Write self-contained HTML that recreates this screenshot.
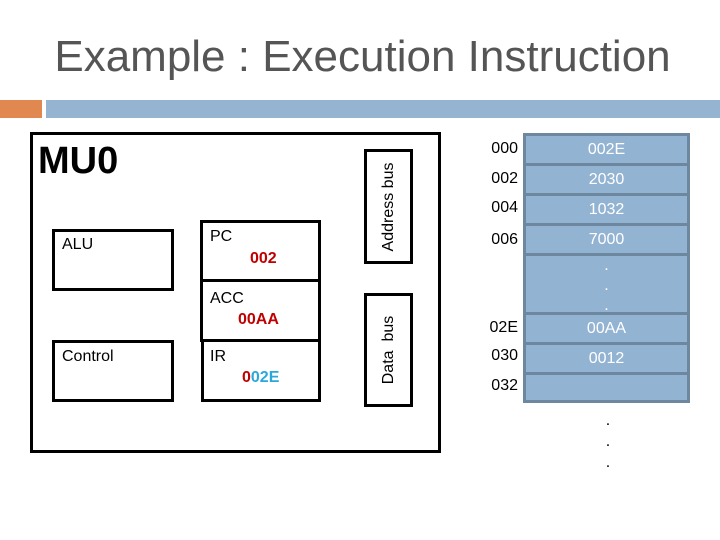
<!DOCTYPE html>
<html><head><style>
body{margin:0;width:720px;height:540px;background:#fff;position:relative;overflow:hidden;font-family:"Liberation Sans",Arial,sans-serif}
div{position:absolute;box-sizing:border-box}
.b{border:3px solid #000}
.t{font-size:16px;color:#000}
.r{color:#c00000;font-weight:bold;font-size:16px}
.m{left:523px;width:167px;background:#93b3d3;border:3px solid #6d879f;color:#fff;font-size:16px;text-align:center}
.a{width:80px;left:438px;text-align:right;font-size:16px}
</style></head><body>
<div style="left:0;top:32px;width:725px;text-align:center;font-size:44px;color:#555">Example : Execution Instruction</div>
<div style="left:0;top:100px;width:42px;height:18px;background:#e08850"></div>
<div style="left:46px;top:100px;width:674px;height:18px;background:#94b4d1"></div>
<div class="b" style="left:30px;top:132px;width:411px;height:321px"></div>
<div style="left:38px;top:140px;font-size:38px;font-weight:bold">MU0</div>
<div class="b" style="left:52px;top:229px;width:122px;height:62px"><span class="t" style="position:absolute;left:7px;top:4px">ALU</span></div>
<div class="b" style="left:52px;top:340px;width:122px;height:62px"><span class="t" style="position:absolute;left:7px;top:5px">Control</span></div>
<div class="b" style="left:200px;top:220px;width:121px;height:62px"><span class="t" style="position:absolute;left:7px;top:5px">PC</span><span class="r" style="position:absolute;left:47px;top:27px">002</span></div>
<div class="b" style="left:200px;top:279px;width:121px;height:63px"><span class="t" style="position:absolute;left:7px;top:8px">ACC</span><span class="r" style="position:absolute;left:35px;top:29px">00AA</span></div>
<div class="b" style="left:201px;top:339px;width:120px;height:63px"><span class="t" style="position:absolute;left:6px;top:6px">IR</span><span class="r" style="position:absolute;left:38px;top:27px">0<span style="color:#2aa8dc">02E</span></span></div>
<div class="b" style="left:364px;top:149px;width:49px;height:115px"><span class="t" style="position:absolute;left:50%;top:50%;transform:translate(-50%,-50%) rotate(-90deg);white-space:nowrap">Address bus</span></div>
<div class="b" style="left:364px;top:293px;width:49px;height:114px"><span class="t" style="position:absolute;left:50%;top:50%;transform:translate(-50%,-50%) rotate(-90deg);white-space:nowrap">Data&nbsp; bus</span></div>

<div class="m" style="top:133px;height:33px;line-height:28px">002E</div>
<div class="m" style="top:163px;height:33px;line-height:28px">2030</div>
<div class="m" style="top:193px;height:33px;line-height:28px">1032</div>
<div class="m" style="top:223px;height:33px;line-height:28px">7000</div>
<div class="m" style="top:253px;height:62px;line-height:20px">.<br>.<br>.</div>
<div class="m" style="top:312px;height:33px;line-height:28px">00AA</div>
<div class="m" style="top:342px;height:33px;line-height:28px">0012</div>
<div class="m" style="top:372px;height:31px"></div>
<div class="a" style="top:140px">000</div>
<div class="a" style="top:170px">002</div>
<div class="a" style="top:199px">004</div>
<div class="a" style="top:231px">006</div>
<div class="a" style="top:319px">02E</div>
<div class="a" style="top:347px">030</div>
<div class="a" style="top:377px">032</div>
<div style="left:598px;top:410px;width:20px;text-align:center;font-size:16px;line-height:21px">.<br>.<br>.</div>
</body></html>
